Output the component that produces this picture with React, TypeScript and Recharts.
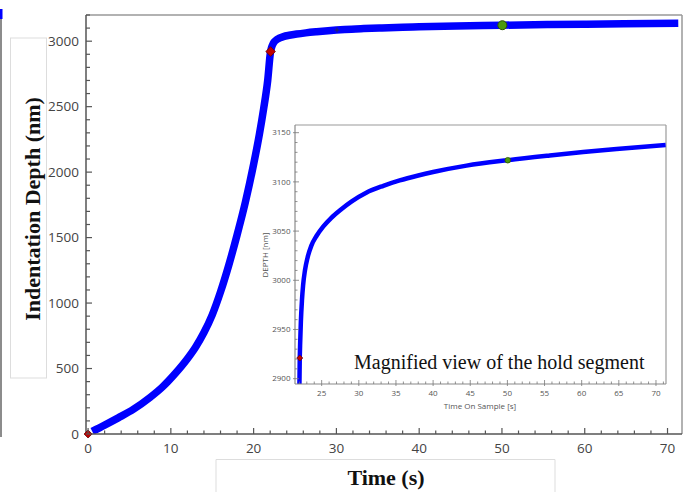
import React from "react";
import { ComposedChart, Line, XAxis, YAxis, ReferenceDot, ReferenceLine } from "recharts";

// loading segment
const loadTime = [0.5, 2.0, 3.7, 5.5, 7.5, 9.0, 10.5, 12.0, 13.0, 14.0, 15.0, 16.0, 17.0, 18.0, 19.0, 20.0, 20.7, 21.2, 21.7, 22.05];
const loadDepth = [20, 68, 125, 190, 280, 360, 460, 575, 665, 775, 910, 1085, 1290, 1520, 1770, 2060, 2290, 2480, 2700, 2921];

// hold segment
const holdTime = [22.1, 22.2, 22.35, 22.5, 22.75, 23.1, 23.6, 24.3, 25.2, 26.3, 27.6, 29.0, 31.0, 33.3, 35.5, 38.0, 40.0, 44.5, 50.0, 55.7, 60.2, 64.7, 71.3];
const holdDepth = [2935, 2958, 2980, 2995, 3010, 3023, 3035, 3045, 3054.5, 3063.5, 3072, 3080, 3089, 3096, 3101.5, 3106.5, 3110, 3116.5, 3122, 3126.8, 3130.3, 3133.4, 3137.5];

// markers
const startMark = { t: 0, d: 0 };
const holdStartMark = { t: 22.05, d: 2921 };
const midHoldMark = { t: 50.05, d: 3122 };
const crossMark = { t: 30.07, d: 3085 };

const mainXMajor = [0, 10, 20, 30, 40, 50, 60, 70];
const mainYMajor = [0, 500, 1000, 1500, 2000, 2500, 3000];
const insetXMajor = [25, 30, 35, 40, 45, 50, 55, 60, 65, 70];
const insetYMajor = [2900, 2950, 3000, 3050, 3100, 3150];

const range = (a: number, b: number, s: number) =>
  Array.from({ length: Math.round((b - a) / s) + 1 }, (_, i) => a + i * s);

const data = [
  ...loadTime.map((t, i) => ({ t, d: loadDepth[i] })),
  ...holdTime.map((t, i) => ({ t, d: holdDepth[i] })),
];

const BLUE = "#0000ff";
const TICK_FONT = "'Open Sans', 'Noto Sans', sans-serif";
const SERIF = "'Liberation Serif', 'DejaVu Serif', serif";

function MainXTick({ x, y, payload }: any) {
  const major = mainXMajor.includes(payload.value);
  return (
    <g>
      <line x1={x} x2={x} y1={y} y2={y - (major ? 6 : 3.5)} stroke="#555" strokeWidth={1.2} />
      {major && (
        <text x={x} y={y + 19} textAnchor="middle" fill="#444" fontSize={13.5} fontFamily={TICK_FONT}>
          {payload.value}
        </text>
      )}
    </g>
  );
}

function MainYTick({ x, y, payload }: any) {
  const major = mainYMajor.includes(payload.value);
  return (
    <g>
      <line x1={x} x2={x + (major ? 6 : 4)} y1={y} y2={y} stroke="#555" strokeWidth={1.2} />
      {major && (
        <text x={x - 7} y={y} dy="0.35em" textAnchor="end" fill="#444" fontSize={13.5} fontFamily={TICK_FONT}>
          {payload.value}
        </text>
      )}
    </g>
  );
}

function InsetXTick({ x, y, payload }: any) {
  const major = insetXMajor.includes(payload.value);
  return (
    <g>
      <line x1={x} x2={x} y1={y + (major ? 2 : 0)} y2={y - (major ? 4 : 2.5)} stroke="#777" strokeWidth={0.8} />
      {major && (
        <text x={x} y={y + 11.5} textAnchor="middle" fill="#555" fontSize={8} fontFamily={TICK_FONT}>
          {payload.value}
        </text>
      )}
    </g>
  );
}

function InsetYTick({ x, y, payload }: any) {
  const major = insetYMajor.includes(payload.value);
  return (
    <g>
      <line x1={x - (major ? 2 : 0)} x2={x + (major ? 4 : 2.5)} y1={y} y2={y} stroke="#777" strokeWidth={0.8} />
      {major && (
        <text x={x - 4.5} y={y} dy="0.35em" textAnchor="end" fill="#555" fontSize={8} fontFamily={TICK_FONT}>
          {payload.value}
        </text>
      )}
    </g>
  );
}

const diamond = (size: number) => (props: any) => {
  const { cx, cy } = props;
  return (
    <path
      d={`M${cx},${cy - size} L${cx + size},${cy} L${cx},${cy + size} L${cx - size},${cy} Z`}
      fill="#c00000"
      stroke="#6a0000"
      strokeWidth={0.8}
    />
  );
};

const cross = (props: any) => {
  const { cx, cy } = props;
  return (
    <path d={`M${cx - 2.5},${cy} H${cx + 2.5} M${cx},${cy - 2.5} V${cy + 2.5}`} stroke="#333" strokeWidth={0.8} />
  );
};

export default function App() {
  return (
    <div style={{ position: "absolute", left: 0, top: 0, width: 684, height: 492, background: "#fff" }}>
      <svg width={684} height={492} style={{ position: "absolute", left: 0, top: 0 }}>
        <rect x={0} y={9} width={2.5} height={10} fill={BLUE} />
        <line x1={1} x2={1} y1={19} y2={437} stroke="#666" strokeWidth={1.5} />
        <rect x={10.5} y={38} width={36} height={340} fill="none" stroke="#ddd" strokeWidth={1} />
        <path d="M216,492 V459.5 H555 V492" fill="none" stroke="#ddd" strokeWidth={1} />
        <text
          transform="translate(40,209) rotate(-90)"
          textAnchor="middle"
          fontFamily={SERIF}
          fontWeight="bold"
          fontSize={22}
          fill="#111"
        >
          Indentation Depth (nm)
        </text>
        <text x={386} y={485} textAnchor="middle" fontFamily={SERIF} fontWeight="bold" fontSize={22} fill="#111">
          Time (s)
        </text>
        <text x={354} y={369} fontFamily={SERIF} fontSize={20} fill="#111">
          Magnified view of the hold segment
        </text>
        <text x={480} y={409} textAnchor="middle" fontFamily={TICK_FONT} fontSize={8} fill="#555">
          Time On Sample [s]
        </text>
        <text transform="translate(268,255) rotate(-90)" textAnchor="middle" fontFamily={TICK_FONT} fontSize={8} fill="#555">
          DEPTH [nm]
        </text>
      </svg>

      <div style={{ position: "absolute", left: 0, top: 0 }}>
        <ComposedChart width={684} height={492} data={data} margin={{ top: 15, right: 2, left: 0, bottom: 0 }}>
          <XAxis
            dataKey="t"
            type="number"
            domain={[-0.25, 71.75]}
            allowDataOverflow
            ticks={range(0, 70, 2)}
            interval={0}
            height={58}
            tickSize={0}
            tickMargin={0}
            tickLine={false}
            tick={<MainXTick />}
            axisLine={{ stroke: "#555", strokeWidth: 1.5 }}
          />
          <YAxis
            type="number"
            domain={[0, 3200]}
            allowDataOverflow
            ticks={range(0, 3200, 100)}
            interval={0}
            width={86}
            tickSize={0}
            tickMargin={0}
            tickLine={false}
            tick={<MainYTick />}
            axisLine={{ stroke: "#555", strokeWidth: 1.5 }}
          />
          <ReferenceLine y={3200} stroke="#999" strokeWidth={1.5} />
          <ReferenceLine x={71.75} stroke="#999" strokeWidth={1.5} />
          <Line
            dataKey="d"
            type="monotone"
            stroke={BLUE}
            strokeWidth={7.5}
            dot={false}
            activeDot={false}
            isAnimationActive={false}
          />
          <ReferenceDot x={startMark.t} y={startMark.d} r={4} ifOverflow="hidden" shape={diamond(4)} />
          <ReferenceDot x={holdStartMark.t} y={holdStartMark.d} r={5} shape={diamond(4.8)} />
          <ReferenceDot x={crossMark.t} y={crossMark.d} r={3} shape={cross} />
          <ReferenceDot x={midHoldMark.t} y={midHoldMark.d} r={4.5} fill="#4c9a10" stroke="#2d5500" strokeWidth={1} />
        </ComposedChart>
      </div>

      <div style={{ position: "absolute", left: 240, top: 115 }}>
        <ComposedChart width={434} height={305} data={data} margin={{ top: 10, right: 8, left: 0, bottom: 0 }}>
          <XAxis
            dataKey="t"
            type="number"
            domain={[21.41, 71.35]}
            allowDataOverflow
            ticks={range(22, 71, 1)}
            interval={0}
            height={36}
            tickSize={0}
            tickMargin={0}
            tickLine={false}
            tick={<InsetXTick />}
            axisLine={{ stroke: "#8a8a8a", strokeWidth: 1.2 }}
          />
          <YAxis
            type="number"
            domain={[2894.6, 3157.8]}
            allowDataOverflow
            ticks={range(2900, 3150, 10)}
            interval={0}
            width={55}
            tickSize={0}
            tickMargin={0}
            tickLine={false}
            tick={<InsetYTick />}
            axisLine={{ stroke: "#8a8a8a", strokeWidth: 1.2 }}
          />
          <ReferenceLine y={3157.8} stroke="#9a9a9a" strokeWidth={1.2} />
          <ReferenceLine x={71.35} stroke="#9a9a9a" strokeWidth={1.2} />
          <Line
            dataKey="d"
            type="monotone"
            stroke={BLUE}
            strokeWidth={4.5}
            dot={false}
            activeDot={false}
            isAnimationActive={false}
          />
          <ReferenceDot x={holdStartMark.t} y={holdStartMark.d} r={3} shape={diamond(3)} />
          <ReferenceDot x={midHoldMark.t} y={midHoldMark.d} r={2.8} fill="#4c9a10" stroke="#2d5500" strokeWidth={0.8} />
        </ComposedChart>
      </div>
    </div>
  );
}
